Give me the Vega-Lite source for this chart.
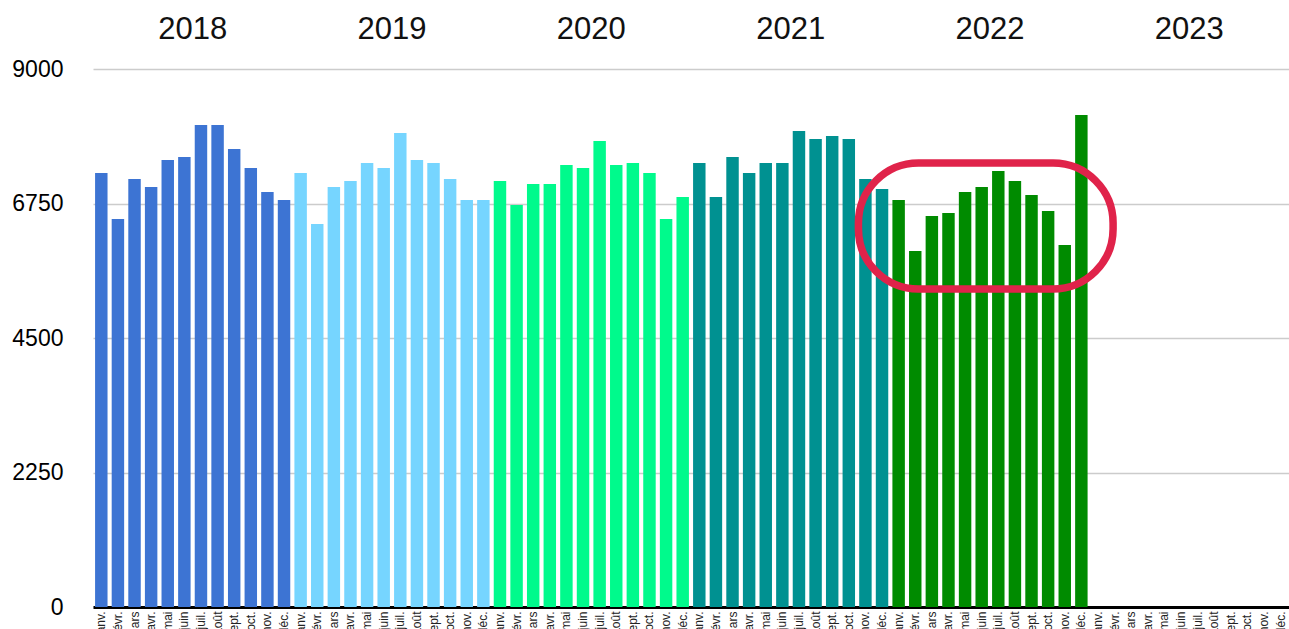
{
  "$schema": "https://vega.github.io/schema/vega-lite/v6.json",
  "width": 1196,
  "height": 538,
  "autosize": {"type": "none"},
  "padding": {"left": 93, "top": 69, "right": 0, "bottom": 22},
  "background": "white",
  "config": {
    "view": {"stroke": null},
    "font": "Liberation Sans"
  },
  "datasets": {
    "monthly": [
      {"key": "2018-01 janv.", "year": "2018", "value": 7260},
      {"key": "2018-02 févr.", "year": "2018", "value": 6490},
      {"key": "2018-03 mars", "year": "2018", "value": 7160},
      {"key": "2018-04 avr.", "year": "2018", "value": 7026},
      {"key": "2018-05 mai", "year": "2018", "value": 7477},
      {"key": "2018-06 juin", "year": "2018", "value": 7528},
      {"key": "2018-07 juil.", "year": "2018", "value": 8063},
      {"key": "2018-08 août", "year": "2018", "value": 8063},
      {"key": "2018-09 sept.", "year": "2018", "value": 7661},
      {"key": "2018-10 oct.", "year": "2018", "value": 7343},
      {"key": "2018-11 nov.", "year": "2018", "value": 6942},
      {"key": "2018-12 déc.", "year": "2018", "value": 6808},
      {"key": "2019-01 janv.", "year": "2019", "value": 7260},
      {"key": "2019-02 févr.", "year": "2019", "value": 6407},
      {"key": "2019-03 mars", "year": "2019", "value": 7026},
      {"key": "2019-04 avr.", "year": "2019", "value": 7126},
      {"key": "2019-05 mai", "year": "2019", "value": 7427},
      {"key": "2019-06 juin", "year": "2019", "value": 7343},
      {"key": "2019-07 juil.", "year": "2019", "value": 7929},
      {"key": "2019-08 août", "year": "2019", "value": 7477},
      {"key": "2019-09 sept.", "year": "2019", "value": 7427},
      {"key": "2019-10 oct.", "year": "2019", "value": 7160},
      {"key": "2019-11 nov.", "year": "2019", "value": 6808},
      {"key": "2019-12 déc.", "year": "2019", "value": 6808},
      {"key": "2020-01 janv.", "year": "2020", "value": 7126},
      {"key": "2020-02 févr.", "year": "2020", "value": 6725},
      {"key": "2020-03 mars", "year": "2020", "value": 7076},
      {"key": "2020-04 avr.", "year": "2020", "value": 7076},
      {"key": "2020-05 mai", "year": "2020", "value": 7394},
      {"key": "2020-06 juin", "year": "2020", "value": 7343},
      {"key": "2020-07 juil.", "year": "2020", "value": 7795},
      {"key": "2020-08 août", "year": "2020", "value": 7394},
      {"key": "2020-09 sept.", "year": "2020", "value": 7427},
      {"key": "2020-10 oct.", "year": "2020", "value": 7260},
      {"key": "2020-11 nov.", "year": "2020", "value": 6490},
      {"key": "2020-12 déc.", "year": "2020", "value": 6858},
      {"key": "2021-01 janv.", "year": "2021", "value": 7427},
      {"key": "2021-02 févr.", "year": "2021", "value": 6858},
      {"key": "2021-03 mars", "year": "2021", "value": 7528},
      {"key": "2021-04 avr.", "year": "2021", "value": 7260},
      {"key": "2021-05 mai", "year": "2021", "value": 7427},
      {"key": "2021-06 juin", "year": "2021", "value": 7427},
      {"key": "2021-07 juil.", "year": "2021", "value": 7962},
      {"key": "2021-08 août", "year": "2021", "value": 7829},
      {"key": "2021-09 sept.", "year": "2021", "value": 7879},
      {"key": "2021-10 oct.", "year": "2021", "value": 7829},
      {"key": "2021-11 nov.", "year": "2021", "value": 7160},
      {"key": "2021-12 déc.", "year": "2021", "value": 6992},
      {"key": "2022-01 janv.", "year": "2022", "value": 6808},
      {"key": "2022-02 févr.", "year": "2022", "value": 5955},
      {"key": "2022-03 mars", "year": "2022", "value": 6541},
      {"key": "2022-04 avr.", "year": "2022", "value": 6591},
      {"key": "2022-05 mai", "year": "2022", "value": 6942},
      {"key": "2022-06 juin", "year": "2022", "value": 7026},
      {"key": "2022-07 juil.", "year": "2022", "value": 7293},
      {"key": "2022-08 août", "year": "2022", "value": 7126},
      {"key": "2022-09 sept.", "year": "2022", "value": 6892},
      {"key": "2022-10 oct.", "year": "2022", "value": 6624},
      {"key": "2022-11 nov.", "year": "2022", "value": 6056},
      {"key": "2022-12 déc.", "year": "2022", "value": 8230}
    ],
    "years": [
      {"year": "2018", "key": "2018-07 juil."},
      {"year": "2019", "key": "2019-07 juil."},
      {"year": "2020", "key": "2020-07 juil."},
      {"year": "2021", "key": "2021-07 juil."},
      {"year": "2022", "key": "2022-07 juil."},
      {"year": "2023", "key": "2023-07 juil."}
    ],
    "highlight": [
      {"x0": 46.08, "x1": 61.41, "y0": 5320, "y1": 7427}
    ]
  },
  "layer": [
    {
      "layer": [
        {
          "data": {"name": "monthly"},
          "mark": {"type": "bar"},
          "encoding": {
            "x": {
              "field": "key",
              "type": "ordinal",
              "scale": {
                "domain": [
                  "2018-01 janv.", "2018-02 févr.", "2018-03 mars", "2018-04 avr.", "2018-05 mai", "2018-06 juin", "2018-07 juil.", "2018-08 août", "2018-09 sept.", "2018-10 oct.", "2018-11 nov.", "2018-12 déc.",
                  "2019-01 janv.", "2019-02 févr.", "2019-03 mars", "2019-04 avr.", "2019-05 mai", "2019-06 juin", "2019-07 juil.", "2019-08 août", "2019-09 sept.", "2019-10 oct.", "2019-11 nov.", "2019-12 déc.",
                  "2020-01 janv.", "2020-02 févr.", "2020-03 mars", "2020-04 avr.", "2020-05 mai", "2020-06 juin", "2020-07 juil.", "2020-08 août", "2020-09 sept.", "2020-10 oct.", "2020-11 nov.", "2020-12 déc.",
                  "2021-01 janv.", "2021-02 févr.", "2021-03 mars", "2021-04 avr.", "2021-05 mai", "2021-06 juin", "2021-07 juil.", "2021-08 août", "2021-09 sept.", "2021-10 oct.", "2021-11 nov.", "2021-12 déc.",
                  "2022-01 janv.", "2022-02 févr.", "2022-03 mars", "2022-04 avr.", "2022-05 mai", "2022-06 juin", "2022-07 juil.", "2022-08 août", "2022-09 sept.", "2022-10 oct.", "2022-11 nov.", "2022-12 déc.",
                  "2023-01 janv.", "2023-02 févr.", "2023-03 mars", "2023-04 avr.", "2023-05 mai", "2023-06 juin", "2023-07 juil.", "2023-08 août", "2023-09 sept.", "2023-10 oct.", "2023-11 nov.", "2023-12 déc."
                ],
                "paddingInner": 0.25,
                "paddingOuter": 0.125
              },
              "axis": {
                "title": null,
                "labelExpr": "split(datum.value, ' ')[1]",
                "labelAngle": -90,
                "labelFontSize": 12,
                "labelColor": "#222222",
                "labelPadding": 4,
                "labelOverlap": false,
                "ticks": false,
                "domainColor": "#000000",
                "domainWidth": 3,
                "grid": false
              }
            },
            "y": {
              "field": "value",
              "type": "quantitative",
              "scale": {"domain": [0, 9000]},
              "axis": {
                "title": null,
                "values": [0, 2250, 4500, 6750, 9000],
                "format": "d",
                "labelFontSize": 23,
                "labelColor": "#000000",
                "labelPadding": 30,
                "ticks": false,
                "domain": false,
                "gridColor": "#cccccc",
                "gridWidth": 1.5
              }
            },
            "color": {
              "field": "year",
              "type": "nominal",
              "scale": {
                "domain": ["2018", "2019", "2020", "2021", "2022", "2023"],
                "range": ["#3d74d3", "#76d5ff", "#00fa8c", "#009191", "#008b00", "#008b00"]
              },
              "legend": null
            }
          }
        },
        {
          "data": {"name": "years"},
          "mark": {"type": "text", "fontSize": 31, "color": "#111111", "baseline": "middle", "align": "center", "dy": -39},
          "encoding": {
            "x": {"field": "key", "type": "ordinal", "bandPosition": -0.1667},
            "y": {"datum": 9000, "type": "quantitative"},
            "text": {"field": "year"}
          }
        }
      ]
    },
    {
      "data": {"name": "highlight"},
      "mark": {"type": "rect", "fill": null, "stroke": "#e0234a", "strokeWidth": 7.5, "cornerRadius": 60},
      "encoding": {
        "x": {"field": "x0", "type": "quantitative", "scale": {"domain": [0, 72], "nice": false, "zero": false}, "axis": null},
        "x2": {"field": "x1"},
        "y": {"field": "y1", "type": "quantitative"},
        "y2": {"field": "y0"}
      }
    }
  ],
  "resolve": {"scale": {"x": "independent"}}
}
